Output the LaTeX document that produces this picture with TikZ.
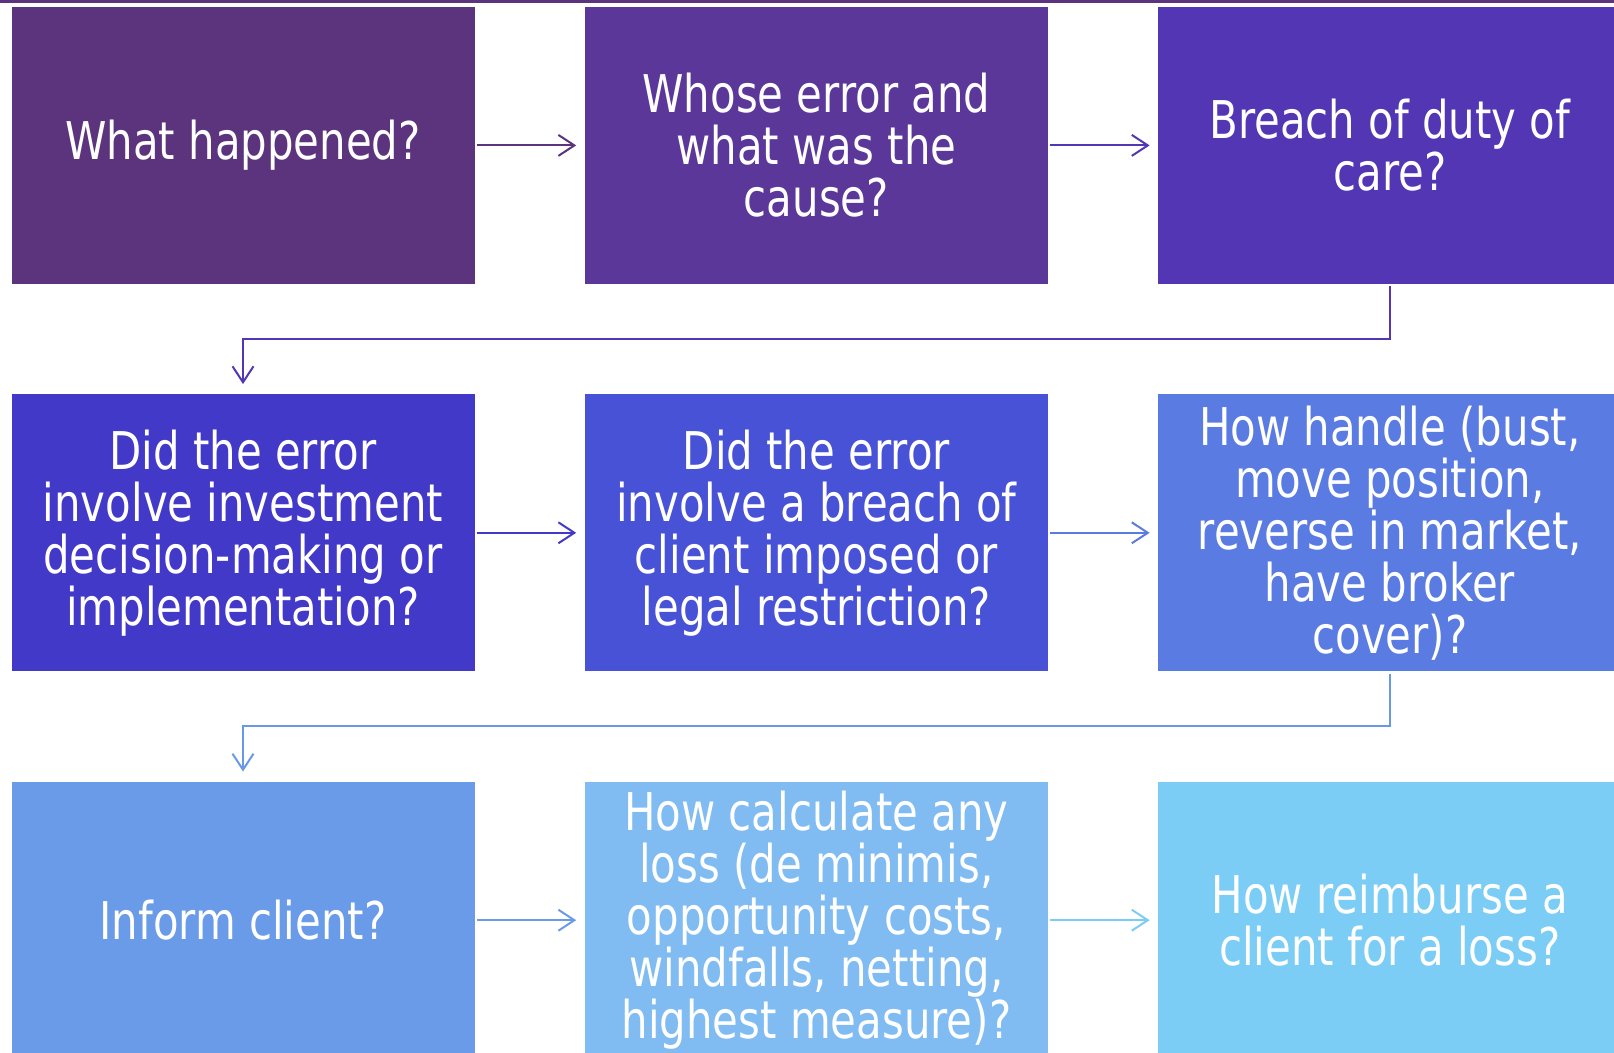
\documentclass[tikz,border=0pt]{standalone}
\usepackage{fontspec}
\setmainfont{DejaVu Sans}[FakeStretch=0.805]
\usetikzlibrary{positioning,arrows.meta}
\definecolor{colA}{RGB}{92,52,126}
\definecolor{colB}{RGB}{91,55,154}
\definecolor{colC}{RGB}{82,54,180}
\definecolor{colD}{RGB}{67,57,201}
\definecolor{colE}{RGB}{72,82,214}
\definecolor{colF}{RGB}{90,123,226}
\definecolor{colG}{RGB}{105,155,232}
\definecolor{colH}{RGB}{128,188,242}
\definecolor{colI}{RGB}{123,205,245}

\begin{document}
\begin{tikzpicture}[x=1pt,y=1pt,node distance=110pt,
	box/.style={rectangle,fill=#1,text=white,minimum width=463pt,minimum height=277pt,inner sep=0pt,align=center,font=\fontsize{52pt}{52pt}\selectfont},
	flow/.style={-{Straight Barb[length=16pt,width=21pt]},line width=2pt,draw=#1,shorten <=2pt,shorten >=8.5pt}]
	\useasboundingbox (0,0) rectangle (1614,-1052);
	\draw[colA,line width=2.7pt] (0,-1.35) -- (1614,-1.35);

	\node[box=colA]	(A) at (243,-145.4)	{What happened?};
	\node[box=colB]	(B) [right=of A]	{Whose error and\\what was the\\cause?};
	\node[box=colC]	(C) [right=of B]	{Breach of duty of\\care?};
	\node[box=colD]	(D) [below=of A]	{Did the error\\involve investment\\decision-making or\\implementation?};
	\node[box=colE]	(E) [right=of D]	{Did the error\\involve a breach of\\client imposed or\\legal restriction?};
	\node[box=colF]	(F) [right=of E]	{How handle (bust,\\move position,\\reverse in market,\\have broker\\cover)?};
	\node[box=colG]	(G) [below=of D]	{Inform client?};
	\node[box=colH]	(H) [right=of G]	{How calculate any\\loss (de minimis,\\opportunity costs,\\windfalls, netting,\\highest measure)?};
	\node[box=colI]	(I) [right=of H]	{How reimburse a\\client for a loss?};

	\draw[flow=colA] (A) -- (B);
	\draw[flow=colC] (B) -- (C);
	\draw[flow=colD] (D) -- (E);
	\draw[flow=colF] (E) -- (F);
	\draw[flow=colG] (G) -- (H);
	\draw[flow=colI] (H) -- (I);
	\draw[flow=colC,shorten >=10pt] (C.south) -- ++(0,-54.6) -| (D.north);
	\draw[flow=colG!95!colF,shorten >=10pt] (F.south) -- ++(0,-54.6) -| (G.north);
\end{tikzpicture}
\end{document}
